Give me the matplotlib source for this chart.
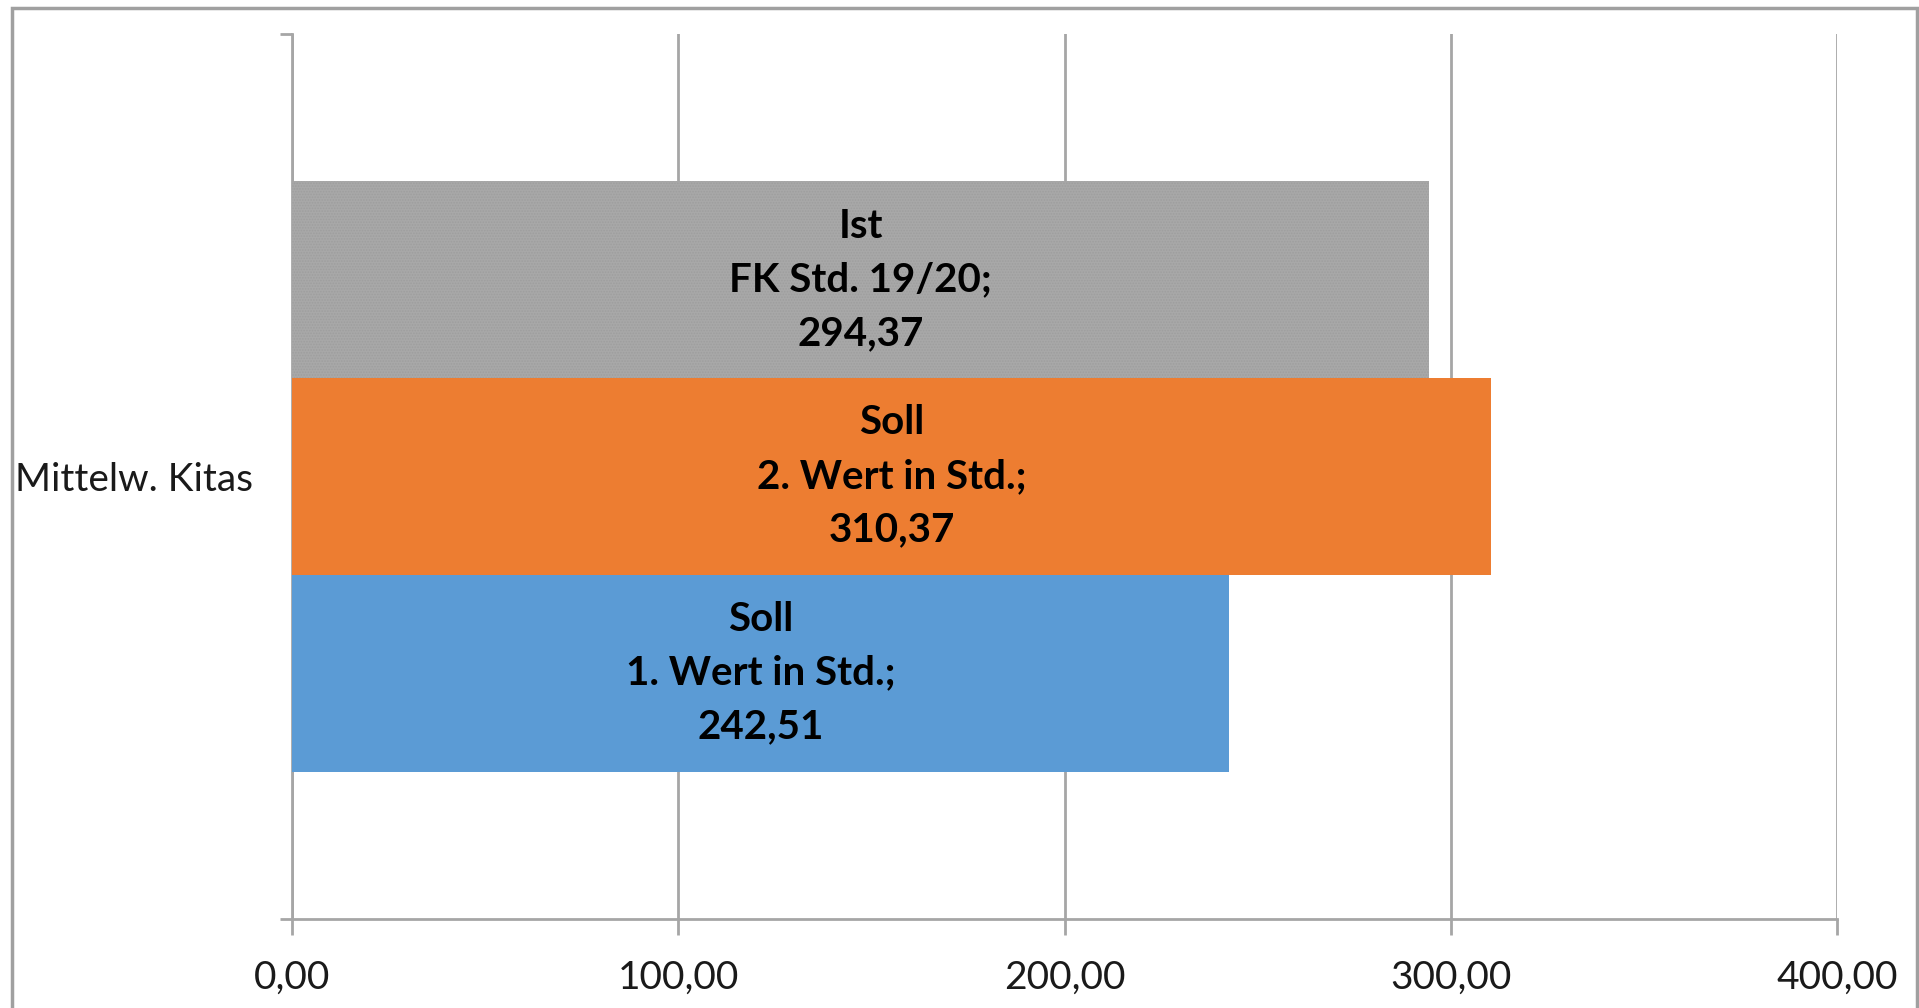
import matplotlib.pyplot as plt
from matplotlib.patches import Rectangle

# data, bottom to top as drawn in the chart
series = ["Soll\n1. Wert in Std.", "Soll\n2. Wert in Std.", "Ist\nFK Std. 19/20"]
values = [242.51, 310.37, 294.37]
colors = ["#5B9BD5", "#ED7D31", "#A5A5A5"]
category = "Mittelw. Kitas"
xticks = [0, 100, 200, 300, 400]

plt.rcParams['font.family'] = ['Lato', 'DejaVu Sans']
plt.rcParams['hatch.linewidth'] = 0.8

W, H = 1919, 1008
fig = plt.figure(figsize=(W / 100, H / 100), dpi=100)
ax = fig.add_axes([292 / W, 1 - 919 / H, (1837 - 292) / W, (919 - 34) / H])

bh = 1 / 4.5
offsets = [-bh, 0, bh]
for name, v, c, off in zip(series, values, colors, offsets):
    if c == "#A5A5A5":
        ax.barh(off, v, height=bh, color="#A8A8A8", edgecolor="#9E9E9E",
                linewidth=0, hatch="......", zorder=3)
    else:
        ax.barh(off, v, height=bh, color=c, linewidth=0, zorder=3)
    lbl = name + ";\n" + f"{v:.2f}".replace(".", ",")
    ax.text(v / 2, off, lbl, ha="center", va="center", fontsize=29,
            fontweight="bold", color="black", linespacing=1.55, zorder=4)

ax.set_xlim(0, 400)
ax.set_ylim(-0.5, 0.5)
ax.set_xticks(xticks)
ax.set_xticklabels([f"{t:.2f}".replace(".", ",") for t in xticks])
ax.set_yticks([-0.5, 0.5])
ax.set_yticklabels(["", ""])
ax.set_yticks([0], minor=True)
ax.set_yticklabels([category], minor=True)

gc = "#A6A6A6"
ax.grid(axis="x", color=gc, linewidth=2, zorder=1)
for s in ["top", "right"]:
    ax.spines[s].set_visible(False)
for s in ["left", "bottom"]:
    ax.spines[s].set_color(gc)
    ax.spines[s].set_linewidth(2)
ax.tick_params(axis="x", which="major", length=11.5, width=2, color=gc,
               labelsize=28, labelcolor="#1a1a1a", pad=18)
ax.tick_params(axis="y", which="major", length=8.5, width=2, color=gc)
ax.tick_params(axis="y", which="minor", length=0, labelsize=28,
               labelcolor="#1a1a1a", pad=28)

fig.patches.append(Rectangle((12 / W, -0.05), (1917 - 12) / W, 1.05 - 8 / H,
                             transform=fig.transFigure, fill=False,
                             edgecolor="#A0A0A0", linewidth=2.5))

fig.savefig("out.png", dpi=100)
